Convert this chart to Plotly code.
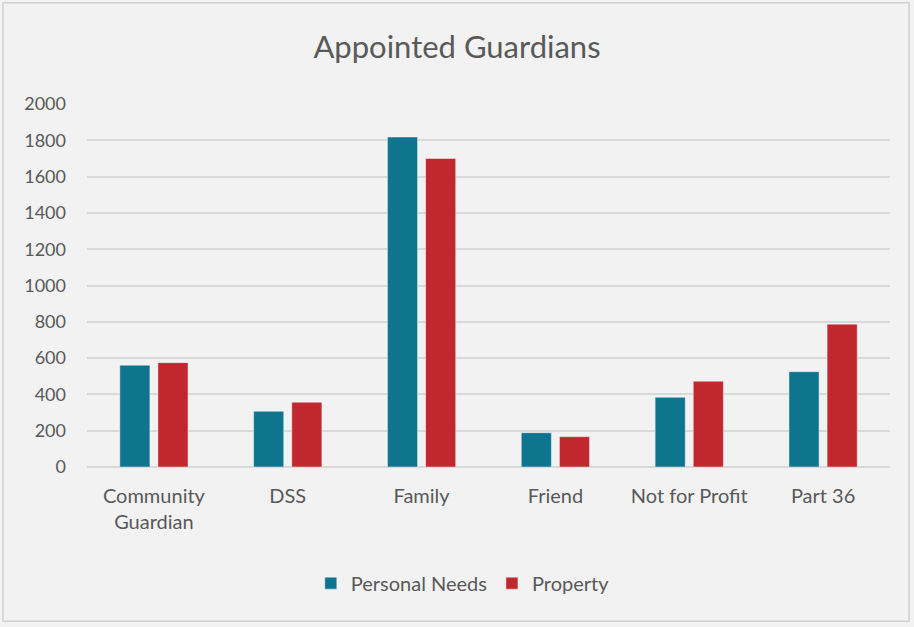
import plotly.graph_objects as go

categories = ["Community<br>Guardian", "DSS", "Family", "Friend", "Not for Profit", "Part 36"]
personal_needs = [561, 307, 1818, 189, 384, 525]
property_vals = [575, 357, 1700, 167, 473, 787]
y_ticks = [0, 200, 400, 600, 800, 1000, 1200, 1400, 1600, 1800, 2000]

FONT = "Lato, Open Sans, sans-serif"
TEXT = "#595959"

fig = go.Figure()
fig.add_trace(go.Bar(name="Personal Needs", x=categories, y=personal_needs,
                     marker=dict(color="#0f758f", line=dict(color="rgba(255,255,255,0.45)", width=1))))
fig.add_trace(go.Bar(name="Property", x=categories, y=property_vals,
                     marker=dict(color="#c1272f", line=dict(color="rgba(255,255,255,0.45)", width=1))))

fig.update_layout(
    width=914, height=627,
    paper_bgcolor="#f2f2f2", plot_bgcolor="#f2f2f2",
    margin=dict(l=87, r=24, t=104, b=160),
    barmode="group", bargap=0.43, bargroupgap=0.21,
    font=dict(family=FONT, size=20, color=TEXT),
    title=dict(text="Appointed Guardians", x=0.5, xanchor="center", y=0.925, yanchor="middle",
               font=dict(family=FONT, size=31, color=TEXT)),
    showlegend=True,
    legend=dict(orientation="h", x=0.468, xanchor="center", y=-0.32, yanchor="middle",
                font=dict(family=FONT, size=20, color=TEXT), itemwidth=30, traceorder="normal"),
    xaxis=dict(showgrid=False, showline=False, ticks="", ticklabelstandoff=15,
               tickfont=dict(family=FONT, size=20, color=TEXT)),
    yaxis=dict(range=[0, 2000], tickvals=y_ticks, showgrid=True, gridcolor="#d9d9d9", gridwidth=1.5,
               zeroline=True, zerolinecolor="#d9d9d9", zerolinewidth=1.5, showline=False,
               ticks="", ticklabelstandoff=20, tickfont=dict(family=FONT, size=18, color=TEXT)),
    shapes=[dict(type="rect", xref="paper", yref="paper", x0=-0.1046, x1=1.0237, y0=-0.4246, y1=1.279,
                 line=dict(color="#d0d0d0", width=1.5), fillcolor="rgba(0,0,0,0)", layer="below")],
)

fig.write_html("out.html", config={"displayModeBar": False},
               post_script="document.body.style.margin='0';document.body.style.overflow='hidden';")
